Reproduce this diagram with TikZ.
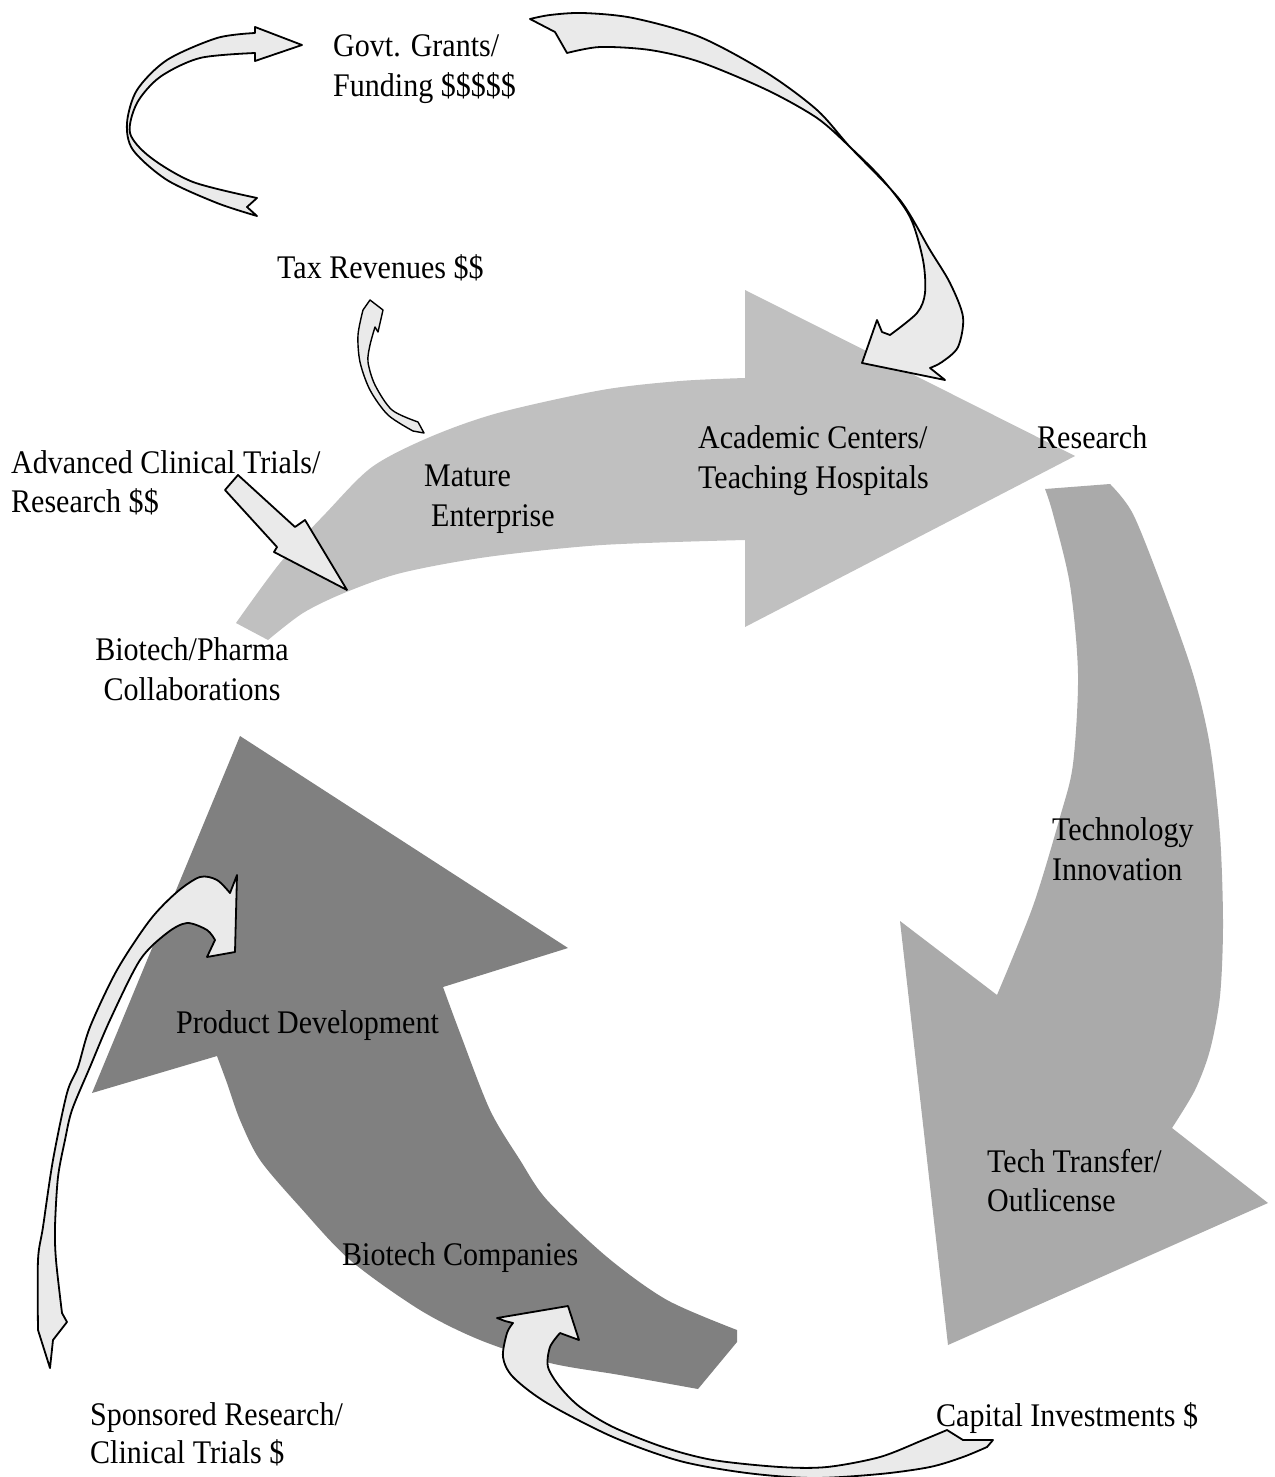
\documentclass[tikz,border=0pt]{standalone}
\usepackage{fontspec}
\setmainfont{Liberation Serif}[FakeStretch=0.91]
\definecolor{lgrey}{HTML}{C0C0C0}
\definecolor{mgrey}{HTML}{AAAAAA}
\definecolor{dgrey}{HTML}{808080}
\definecolor{pale}{HTML}{EAEAEA}
\tikzset{
  lbl/.style={anchor=base west,inner sep=0pt,font=\fontsize{33}{40}\selectfont},
  ribbon/.style={fill=pale,draw=black,line width=1.8pt,line join=round},
}
\begin{document}
\begin{tikzpicture}[x=1pt,y=-1pt]
\useasboundingbox (0,0) rectangle (1274,1477);
\fill[white] (0,0) rectangle (1274,1477);
\begin{scope}
\clip (0,0) rectangle (1274,1477);
% light grey arrow
\fill[lgrey] (745,378) -- (745,290) -- (1075,456) -- (745,627) -- (745,540)
  -- plot[smooth] coordinates {(745,540) (602,545) (487,557) (401,573) (344,593) (303,613) (268,640)}
  -- plot[smooth] coordinates {(236,623) (280,563) (326,513) (372,467) (430,437) (498,413) (602,390) (680,381) (745,378)} -- cycle;
% medium grey arrow
\fill[mgrey] (1045,489) -- (1110,484)
  -- plot[smooth] coordinates {(1110,484) (1133,514) (1163,589) (1193,674) (1210,746) (1220,835) (1223,924) (1220,996) (1210,1050) (1195,1090) (1172,1128)}
  -- (1268,1203) -- (948,1345) -- (900,921) -- (997,995)
  -- plot[smooth] coordinates {(997,995) (1033,906) (1060,817) (1073,764) (1078,674) (1070,585) (1053,514) (1045,489)} -- cycle;
% dark grey arrow
\fill[dgrey] (443,987) -- (568,948) -- (240,736) -- (92,1093) -- (217,1056)
  -- plot[smooth] coordinates {(217,1056) (227,1083) (240,1120) (260,1160) (300,1207) (350,1260) (420,1310) (480,1340) (550,1363) (620,1375) (698,1389)}
  -- (737,1342) -- (737,1330)
  -- plot[smooth] coordinates {(737,1330) (667,1300) (607,1257) (547,1200) (520,1160) (490,1110) (460,1033) (443,987)} -- cycle;
% A: top-left C arrow
\draw[ribbon] (302,45) -- (255,61) -- (255,53)
  -- plot[smooth] coordinates {(255,53) (200,58) (160,77) (137,103) (130,133) (150,157) (193,182) (257,198)}
  -- (247,207) -- (257,216)
  -- plot[smooth] coordinates {(257,216) (217,203) (167,180) (133,150) (127,123) (137,90) (167,60) (217,38) (255,33)}
  -- (255,27) -- cycle;
% B: big top arc
\draw[ribbon] (530,19) -- (555,32) -- (567,53)
  -- plot[smooth] coordinates {(567,53) (600,47) (650,50) (700,62) (767,90) (817,118) (850,147) (883,180) (910,217) (923,260) (925,293) (917,313) (890,335)}
  -- (882,332) -- (877,320) -- (862,363) -- (945,380) -- (930,368)
  -- plot[smooth] coordinates {(930,368) (942,362) (958,347) (963,317) (950,283) (930,250) (900,200) (850,147) (817,110) (767,73) (700,37) (633,18) (583,13) (550,15) (530,19)} -- cycle;
% C: small tax arc
\draw[ribbon,line width=1.4pt] (370,300) -- (383,310) -- (378,332) -- (375,327)
  -- plot[smooth] coordinates {(375,327) (370,345) (368,362) (375,385) (392,410) (418,422)}
  -- (424,433) -- (413,431)
  -- plot[smooth] coordinates {(413,431) (388,415) (370,390) (360,362) (358,335) (363,310)} -- cycle;
% D: straight arrow
\draw[ribbon] (238,475) -- (295,527) -- (305,520) -- (347,590) -- (274,552) -- (277,547) -- (225,490) -- cycle;
% E: left long arrow
\draw[ribbon] (50,1368) -- (53,1340) -- (67,1322) -- (62,1313)
  -- plot[smooth] coordinates {(62,1313) (56,1260) (55,1227) (58,1177) (65,1140) (72,1110) (90,1067) (110,1020) (140,960) (167,933) (187,923) (207,930) (215,940)}
  -- (207,957) -- (235,952) -- (237,875) -- (230,893)
  -- plot[smooth] coordinates {(230,893) (217,880) (200,877) (177,892) (150,920) (117,970) (90,1027) (78,1067) (67,1093) (53,1160) (43,1227) (38,1260) (38,1330)}
  -- cycle;
% F: bottom arc
\draw[ribbon] (497,1318) -- (568,1306) -- (579,1340) -- (560,1333)
  -- plot[smooth] coordinates {(560,1333) (550,1347) (548,1367) (560,1387) (580,1407) (613,1427) (663,1447) (713,1460) (780,1467) (827,1467) (880,1457) (923,1440) (947,1430)}
  -- (963,1440) -- (993,1440) -- (987,1447)
  -- plot[smooth] coordinates {(987,1447) (963,1457) (930,1467) (880,1474) (813,1478) (747,1473) (680,1461) (613,1437) (547,1403) (513,1377) (503,1357) (507,1333) (513,1323)}
  -- (505,1321) -- cycle;
\end{scope}
% labels
\node[lbl] (govt1) at (333,57) {Govt. Grants/};
\node[lbl] (govt2) at (333,97) {Funding \$\$\$\$\$};
\node[lbl] (tax) at (277,278) {Tax Revenues \$\$};
\node[lbl] (adv1) at (11,473) {Advanced Clinical Trials/};
\node[lbl] (adv2) at (11,512) {Research \$\$};
\node[lbl] (mat1) at (424,486) {Mature};
\node[lbl] (mat2) at (431,526) {Enterprise};
\node[lbl] (acad1) at (698,448) {Academic Centers/};
\node[lbl] (acad2) at (698,488) {Teaching Hospitals};
\node[lbl] (res) at (1037,448) {Research};
\node[lbl,anchor=base] (bp1) at (192,660) {Biotech/Pharma};
\node[lbl,anchor=base] (bp2) at (192,700) {Collaborations};
\node[lbl] (tech1) at (1052,840) {Technology};
\node[lbl] (tech2) at (1052,880) {Innovation};
\node[lbl] (pd) at (176,1033) {Product Development};
\node[lbl] (tt1) at (987,1172) {Tech Transfer/};
\node[lbl] (tt2) at (987,1211) {Outlicense};
\node[lbl] (bc) at (342,1265) {Biotech Companies};
\node[lbl] (cap) at (936,1426) {Capital Investments \$};
\node[lbl] (sp1) at (90,1425) {Sponsored Research/};
\node[lbl] (sp2) at (90,1463) {Clinical Trials \$};
\end{tikzpicture}
\end{document}
